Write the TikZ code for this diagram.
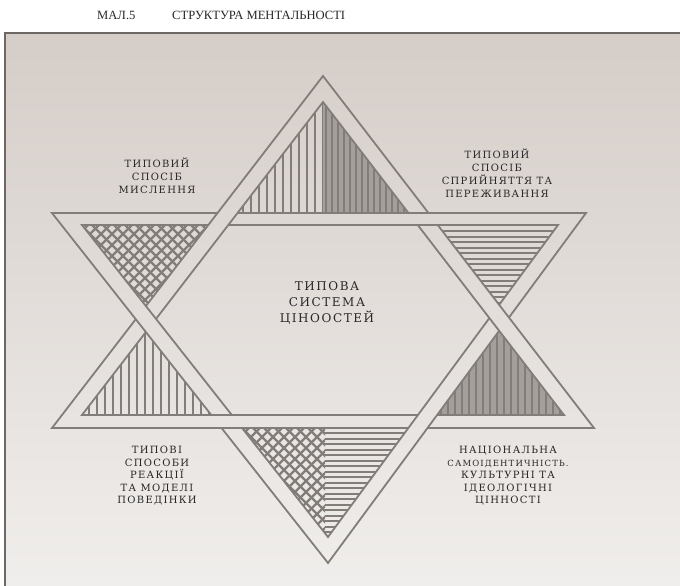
\documentclass[tikz,border=0pt]{standalone}
\usepackage{fontspec}
\usepackage{xcolor}
\setmainfont{DejaVu Serif}
\newfontfamily\titlefont{Liberation Serif}
\newfontfamily\labelfont[LetterSpace=13]{DejaVu Serif}

\definecolor{inkgray}{RGB}{130,125,121}
\definecolor{darkfill}{RGB}{165,159,155}
\definecolor{papertop}{RGB}{213,205,200}
\definecolor{paperbot}{RGB}{240,238,236}
\definecolor{framegray}{RGB}{108,104,101}
\definecolor{textgray}{RGB}{40,39,39}

\begin{document}
\begin{tikzpicture}[x=1pt, y=-1pt,
    band/.style={draw=inkgray, line width=1.8pt, line join=miter},
    hatch/.style={draw=inkgray, line width=2pt},
    thinhatch/.style={draw=inkgray, line width=1.7pt},
    label/.style={align=center, text=textgray, inner sep=0pt, font=\labelfont\fontsize{10}{13}\selectfont},
    title/.style={anchor=west, inner sep=0pt, text=textgray, font=\titlefont\fontsize{12.6}{14}\selectfont}
]

\useasboundingbox (0,0) rectangle (680,586);

% Frame
\shade[top color=papertop, bottom color=paperbot] (5,33) rectangle (680,586);
\draw[framegray, line width=1.3pt] (5,586) -- (5,33) -- (680,33);

% Title
\node[title] (fig) at (97,15) {МАЛ.5};
\node[title] (head) at (172,15) {СТРУКТУРА МЕНТАЛЬНОСТІ};

% Star corners
\coordinate (U1) at (323,76);
\coordinate (U2) at (52,428);
\coordinate (U3) at (594,428);
\coordinate (u1) at (323,102);
\coordinate (u2) at (82,415);
\coordinate (u3) at (564,415);
\coordinate (D1) at (52,213);
\coordinate (D2) at (586,213);
\coordinate (D3) at (328,563);
\coordinate (d1) at (82,225);
\coordinate (d2) at (558,225);
\coordinate (d3) at (328,537);

% Top point
\begin{scope}
  \clip (u1) -- (237.5,213) -- (323,213) -- cycle;
  \foreach \x in {243,251,...,323} \draw[thinhatch] (\x,100) -- (\x,213);
\end{scope}
\begin{scope}
  \clip (u1) -- (323,213) -- (408.5,213) -- cycle;
  \fill[darkfill] (320,100) rectangle (410,213);
  \foreach \x in {326,332,...,410} \draw[hatch] (\x,100) -- (\x,213);
\end{scope}

% Upper left point
\begin{scope}
  \clip (d1) -- (208.3,225) -- (145.9,306) -- cycle;
  \foreach \a in {-100,-89,...,220} \draw[hatch, line width=2.3pt] (\a,220) -- (\a+100,320);
  \foreach \a in {60,71,...,330} \draw[hatch, line width=2.3pt] (\a,220) -- (\a-100,320);
\end{scope}

% Upper right point
\begin{scope}
  \clip (437.7,225) -- (d2) -- (499.2,304.8) -- cycle;
  \foreach \y in {231,236.5,...,306} \draw[hatch] (430,\y) -- (565,\y);
\end{scope}

% Lower left point
\begin{scope}
  \clip (u2) -- (145.9,332) -- (211.4,415) -- cycle;
  \foreach \x in {89,97,...,211} \draw[hatch] (\x,330) -- (\x,415);
\end{scope}

% Lower right point
\begin{scope}
  \clip (437.1,415) -- (499.2,330.8) -- (u3) -- cycle;
  \fill[darkfill] (430,328) rectangle (566,415);
  \foreach \x in {441,448,...,564} \draw[hatch] (\x,328) -- (\x,415);
\end{scope}

% Bottom point
\begin{scope}
  \clip (242,428) -- (408.4,428) -- (d3) -- cycle;
  \begin{scope}
    \clip (230,420) rectangle (325,540);
    \foreach \a in {140,151,...,340} \draw[hatch, line width=2.3pt] (\a,425) -- (\a+120,545);
    \foreach \a in {230,241,...,460} \draw[hatch, line width=2.3pt] (\a,425) -- (\a-120,545);
  \end{scope}
  \foreach \y in {433,438.5,...,540} \draw[hatch] (325,\y) -- (412,\y);
\end{scope}

% Up triangle, under at top right, bottom right and left
\begin{scope}[even odd rule]
  \clip (0,0) rectangle (680,586)
    (395,213) rectangle (450,225)
    (425.3,405) -- (444.5,405) -- (420.2,438) -- (401,438) -- cycle
    (112.8,290) -- (133.2,290) -- (180.5,350) -- (160.1,350) -- cycle;
  \draw[band] (U1) -- (U2) -- (U3) -- cycle;
  \draw[band] (u1) -- (u2) -- (u3) -- cycle;
\end{scope}

% Down triangle, under at top left, right and bottom left
\begin{scope}[even odd rule]
  \clip (0,0) rectangle (680,586)
    (227.5,200) -- (247.5,200) -- (216.7,240) -- (196.7,240) -- cycle
    (487.8,290) -- (534,350) -- (514,350) -- (467.8,290) -- cycle
    (195,415) rectangle (262,428);
  \draw[band] (D1) -- (D2) -- (D3) -- cycle;
  \draw[band] (d1) -- (d2) -- (d3) -- cycle;
\end{scope}

% Labels
\node[label] (think) at (157,176) {ТИПОВИЙ\\СПОСІБ\\МИСЛЕННЯ};
\node[label] (feel) at (497,173) {ТИПОВИЙ\\СПОСІБ\\СПРИЙНЯТТЯ ТА\\ПЕРЕЖИВАННЯ};
\node[label, font=\labelfont\fontsize{12}{16}\selectfont] (values) at (327,303) {ТИПОВА\\СИСТЕМА\\ЦІНООСТЕЙ};
\node[label, font=\labelfont\fontsize{10}{12.5}\selectfont] (react) at (157,476) {ТИПОВІ\\СПОСОБИ\\РЕАКЦІЇ\\ТА МОДЕЛІ\\ПОВЕДІНКИ};
\node[label, font=\labelfont\fontsize{10}{12.5}\selectfont] (nation) at (508,476) {НАЦІОНАЛЬНА\\{\fontsize{8.5}{12.5}\selectfont САМОІДЕНТИЧНІСТЬ.}\\КУЛЬТУРНІ ТА\\ІДЕОЛОГІЧНІ\\ЦІННОСТІ};

\end{tikzpicture}
\end{document}
